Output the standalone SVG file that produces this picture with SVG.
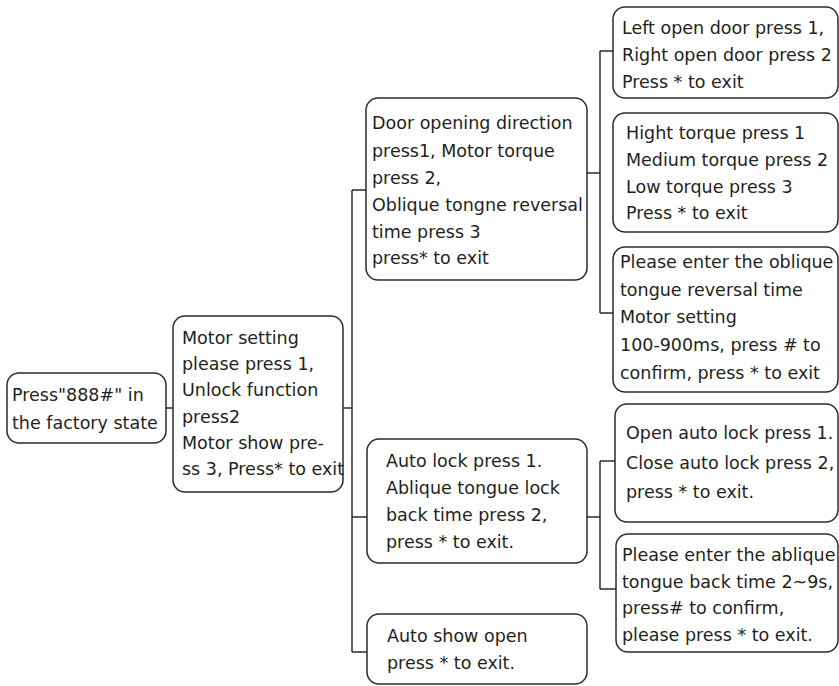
<svg xmlns="http://www.w3.org/2000/svg" width="839" height="686" viewBox="0 0 839 686">
<style>
.box{fill:#fff;stroke:#2b2b2b;stroke-width:1.5}
.t{font-family:"DejaVu Sans","Liberation Sans",sans-serif;font-size:17.5px;fill:#231f20}
.c{fill:none;stroke:#2b2b2b;stroke-width:1.5}
</style>
<rect width="839" height="686" fill="#fff"/>
<g id="connectors">
<path class="c" d="M166 408H173M343 408H352M352 190V652M352 190H366M352 517H367M352 652H367"/>
<path class="c" d="M587 173H600M600 51V313M600 51H613M600 313H613"/>
<path class="c" d="M587 517H600M600 461V589M600 461H615M600 589H616"/>
</g>
<g id="n1"><rect class="box" x="7" y="373" width="159" height="70" rx="12"/>
<text class="t"><tspan x="12" y="401">Press"888#" in</tspan><tspan x="12" y="429">the factory state</tspan></text></g>
<g id="n2"><rect class="box" x="173" y="316" width="170" height="176" rx="12"/>
<text class="t"><tspan x="182" y="344">Motor setting</tspan><tspan x="182" y="370">please press 1,</tspan><tspan x="182" y="396">Unlock function</tspan><tspan x="182" y="423">press2</tspan><tspan x="182" y="449">Motor show pre-</tspan><tspan x="182" y="475">ss 3, Press* to exit</tspan></text></g>
<g id="n3"><rect class="box" x="366" y="98" width="221" height="182" rx="12"/>
<text class="t"><tspan x="372" y="129">Door opening direction</tspan><tspan x="372" y="157">press1, Motor torque</tspan><tspan x="372" y="184">press 2,</tspan><tspan x="372" y="211">Oblique tongne reversal</tspan><tspan x="372" y="238">time press 3</tspan><tspan x="372" y="264">press* to exit</tspan></text></g>
<g id="n4"><rect class="box" x="613" y="7" width="225" height="91" rx="12"/>
<text class="t"><tspan x="622" y="34">Left open door press 1,</tspan><tspan x="622" y="61">Right open door press 2</tspan><tspan x="622" y="88">Press * to exit</tspan></text></g>
<g id="n5"><rect class="box" x="613" y="113" width="225" height="119" rx="12"/>
<text class="t"><tspan x="626" y="139">Hight torque press 1</tspan><tspan x="626" y="166">Medium torque press 2</tspan><tspan x="626" y="193">Low torque press 3</tspan><tspan x="626" y="219">Press * to exit</tspan></text></g>
<g id="n6"><rect class="box" x="613" y="247" width="225" height="145" rx="12"/>
<text class="t"><tspan x="620" y="268">Please enter the oblique</tspan><tspan x="620" y="296">tongue reversal time</tspan><tspan x="620" y="323">Motor setting</tspan><tspan x="620" y="351">100-900ms, press # to</tspan><tspan x="620" y="379">confirm, press * to exit</tspan></text></g>
<g id="n7"><rect class="box" x="367" y="439" width="220" height="124" rx="12"/>
<text class="t"><tspan x="386" y="467">Auto lock press 1.</tspan><tspan x="386" y="494">Ablique tongue lock</tspan><tspan x="386" y="521">back time press 2,</tspan><tspan x="386" y="548">press * to exit.</tspan></text></g>
<g id="n8"><rect class="box" x="615" y="404" width="223" height="118" rx="12"/>
<text class="t"><tspan x="626" y="439">Open auto lock press 1.</tspan><tspan x="626" y="469">Close auto lock press 2,</tspan><tspan x="626" y="498">press * to exit.</tspan></text></g>
<g id="n9"><rect class="box" x="616" y="534" width="222" height="118" rx="12"/>
<text class="t"><tspan x="622" y="561">Please enter the ablique</tspan><tspan x="622" y="588">tongue back time 2~9s,</tspan><tspan x="622" y="614">press# to confirm,</tspan><tspan x="622" y="641">please press * to exit.</tspan></text></g>
<g id="n10"><rect class="box" x="367" y="614" width="220" height="70" rx="12"/>
<text class="t"><tspan x="387" y="642">Auto show open</tspan><tspan x="387" y="669">press * to exit.</tspan></text></g>
</svg>
